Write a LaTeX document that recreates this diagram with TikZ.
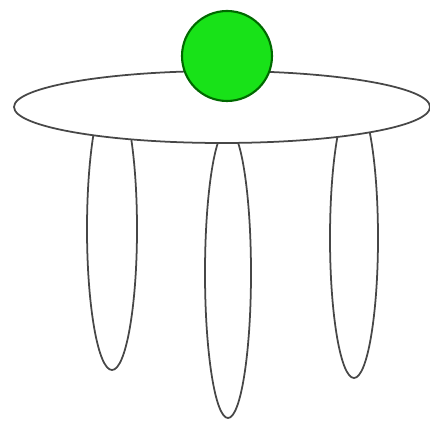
\documentclass[tikz,border=0pt]{standalone}
\usepackage{tikz}
\definecolor{ballgreen}{RGB}{24,226,24}
\definecolor{balledge}{RGB}{0,105,0}
\begin{document}
\begin{tikzpicture}[x=0.02cm,y=0.02cm,
  outline/.style={draw=black!72,line width=1pt},
  ball/.style={draw=balledge,line width=1.2pt,fill=ballgreen}]
\useasboundingbox (0,0) rectangle (430,422);
% legs
\draw[outline] (112,193) ellipse (25 and 141);
\draw[outline] (228,149) ellipse (23 and 145);
\draw[outline] (354,184) ellipse (24 and 140);
% table top
\draw[outline,fill=white] (222,315) ellipse (208 and 36);
% ball
\draw[ball] (227,366) circle (45);
\end{tikzpicture}
\end{document}
